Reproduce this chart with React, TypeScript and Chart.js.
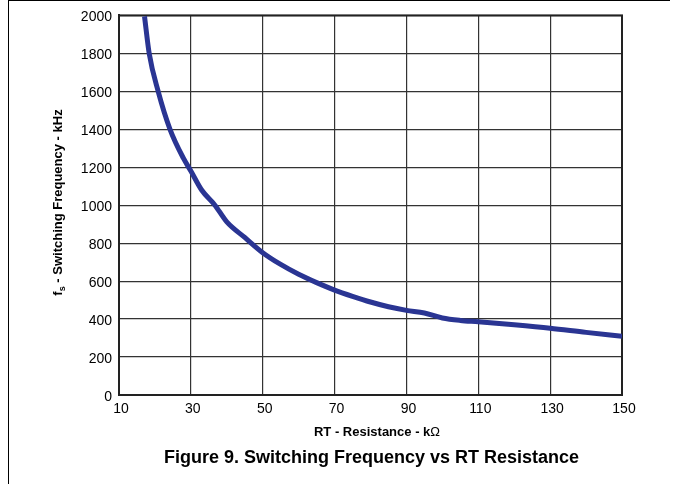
import React, { useEffect, useRef } from "react";
import { Chart, registerables } from "chart.js";

Chart.register(...registerables);

// RT resistance (kΩ)
const resistance = [17.1, 18.4, 20.9, 24.2, 28, 30, 33, 36.7, 40, 45, 50, 55, 60, 65, 70, 75, 80, 85, 90, 95, 100, 105, 110, 120, 130, 140, 150];
// Switching frequency (kHz)
const frequency = [1995, 1800, 1600, 1400, 1245, 1180, 1080, 1000, 912, 830, 750, 688, 636, 592, 553, 520, 490, 465, 446, 432, 406, 393, 386, 370, 352, 330, 310];

const xTitle = "RT - Resistance - k";
const xTitleUnit = "Ω";
const yTitleMain = "f";
const yTitleSub = "s";
const yTitleRest = " - Switching Frequency - kHz";
const caption = "Figure 9. Switching Frequency vs RT Resistance";

const FONT = "'Liberation Sans', Arial, Helvetica, sans-serif";

const annotPlugin = {
  id: "annot",
  beforeDatasetsDraw(chart: any) {
    const { ctx, chartArea } = chart;
    ctx.save();
    ctx.strokeStyle = "#222";
    ctx.lineWidth = 2;
    ctx.strokeRect(chartArea.left, chartArea.top, chartArea.right - chartArea.left, chartArea.bottom - chartArea.top);
    ctx.restore();
  },
  afterDraw(chart: any) {
    const { ctx } = chart;
    ctx.save();
    ctx.fillStyle = "#000";
    ctx.textBaseline = "alphabetic";

    // x axis title
    ctx.font = `bold 13px ${FONT}`;
    const w1 = ctx.measureText(xTitle).width;
    ctx.font = `13px ${FONT}`;
    const w2 = ctx.measureText(xTitleUnit).width;
    const xStart = 377 - (w1 + w2) / 2;
    ctx.font = `bold 13px ${FONT}`;
    ctx.textAlign = "left";
    ctx.fillText(xTitle, xStart, 436);
    ctx.font = `13px ${FONT}`;
    ctx.fillText(xTitleUnit, xStart + w1, 436);

    // y axis title (rotated)
    ctx.save();
    ctx.translate(62, 202.5);
    ctx.rotate(-Math.PI / 2);
    ctx.font = `bold 13px ${FONT}`;
    const a = ctx.measureText(yTitleMain).width;
    const c = ctx.measureText(yTitleRest).width;
    ctx.font = `bold 9px ${FONT}`;
    const b = ctx.measureText(yTitleSub).width;
    const total = a + b + c;
    let px = -total / 2;
    ctx.font = `bold 13px ${FONT}`;
    ctx.fillText(yTitleMain, px, 0);
    px += a;
    ctx.font = `bold 9px ${FONT}`;
    ctx.fillText(yTitleSub, px, 3);
    px += b;
    ctx.font = `bold 13px ${FONT}`;
    ctx.fillText(yTitleRest, px, 0);
    ctx.restore();

    // caption
    ctx.font = `bold 18px ${FONT}`;
    ctx.textAlign = "center";
    ctx.fillText(caption, 371.5, 463);
    ctx.restore();
  },
};

export default function App() {
  const canvasRef = useRef<HTMLCanvasElement | null>(null);

  useEffect(() => {
    if (!canvasRef.current) return;
    const points = resistance.map((r, i) => ({ x: r, y: frequency[i] }));
    const chart = new Chart(canvasRef.current, {
      type: "line",
      data: {
        datasets: [
          {
            data: points,
            borderColor: "#2a3593",
            backgroundColor: "#2a3593",
            borderWidth: 5,
            pointRadius: 0,
            cubicInterpolationMode: "monotone",
            fill: false,
          },
        ],
      },
      options: {
        animation: false,
        responsive: false,
        maintainAspectRatio: false,
        layout: { padding: { left: 0, top: 15, right: 51, bottom: 0 } },
        plugins: {
          legend: { display: false },
          tooltip: { enabled: false },
          title: { display: false },
        },
        scales: {
          x: {
            type: "linear",
            min: 10,
            max: 150,
            afterFit: (scale: any) => {
              scale.height = 89;
            },
            ticks: {
              stepSize: 20,
              color: "#000",
              font: { family: FONT, size: 14 },
              padding: 6,
              labelOffset: 2,
              maxRotation: 0,
              callback: (v: any) => String(v),
            },
            grid: { color: "#333", lineWidth: 1.2, drawTicks: false },
            border: { display: true, color: "#222", width: 2 },
          },
          y: {
            min: 0,
            max: 2000,
            afterFit: (scale: any) => {
              scale.width = 119;
            },
            ticks: {
              stepSize: 200,
              color: "#000",
              font: { family: FONT, size: 14 },
              padding: 7,
              labelOffset: 2,
              callback: (v: any) => String(v),
            },
            grid: { color: "#333", lineWidth: 1.2, drawTicks: false },
            border: { display: true, color: "#222", width: 2 },
          },
        },
      },
      plugins: [annotPlugin],
    });
    return () => chart.destroy();
  }, []);

  return (
    <div style={{ position: "fixed", left: 0, top: 0, width: 673, height: 484, background: "#fff" }}>
      <canvas ref={canvasRef} width={673} height={484} style={{ position: "absolute", left: 0, top: 0, width: 673, height: 484 }} />
      <div
        style={{
          position: "absolute",
          left: 8,
          top: 0,
          width: 662,
          height: 484,
          borderTop: "1px solid #000",
          borderLeft: "1px solid #000",
          boxSizing: "border-box",
          pointerEvents: "none",
        }}
      />
    </div>
  );
}
